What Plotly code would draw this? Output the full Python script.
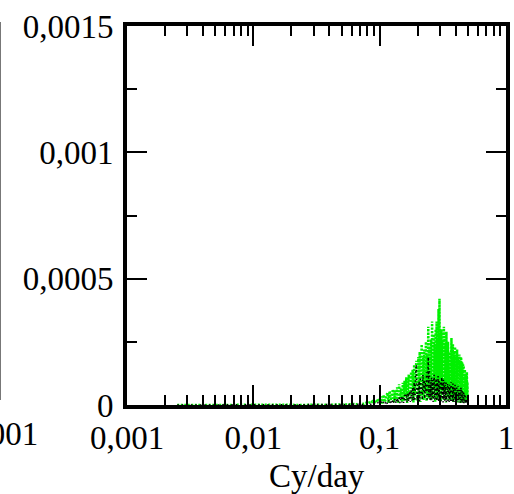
import plotly.graph_objects as go

# Periodogram frequency grid (cycles per day), uniform step up to Nyquist
freq_step = 0.0025
freq = [round(freq_step * k, 4) for k in range(1, 201)]

# Spectral power, in units of 1e-6
green_power_e6 = [
    0, 1, 0, 0, 1, 0, 0, 1, 0, 1, 0, 0, 1, 0, 1, 1, 0, 1, 2, 1,
    2, 1, 3, 2, 4, 2, 5, 3, 6, 4, 8, 5, 10, 6, 14, 8, 18, 10, 26, 14,
    34, 6, 40, 12, 30, 48, 8, 55, 18, 44, 62, 10, 58, 22, 70, 6, 82, 28, 66, 12,
    88, 15, 96, 30, 110, 8, 85, 120, 20, 100, 130, 25, 140, 10, 160, 40, 120, 175, 15, 150,
    190, 30, 210, 12, 170, 240, 40, 195, 20, 220, 60, 180, 250, 15, 205, 50, 310, 25, 230, 170,
    45, 260, 20, 330, 60, 210, 280, 35, 240, 10, 300, 70, 330, 20, 260, 55, 380, 30, 420, 50,
    280, 15, 300, 60, 250, 25, 230, 80, 310, 20, 270, 45, 240, 10, 290, 65, 220, 30, 250, 40,
    230, 20, 210, 55, 200, 15, 150, 265, 30, 220, 50, 240, 12, 190, 40, 210, 20, 230, 45, 180,
    200, 25, 170, 220, 10, 160, 190, 35, 180, 15, 200, 40, 150, 175, 8, 190, 30, 160, 20, 170,
    140, 15, 160, 35, 150, 10, 130, 40, 140, 12, 120, 30, 110, 8, 100, 130, 20, 90, 15, 20,
]
black_power_e6 = [
    0, 0, 1, 0, 0, 1, 0, 0, 1, 0, 0, 1, 0, 0, 1, 0, 1, 0, 1, 1,
    1, 2, 1, 2, 3, 1, 3, 2, 4, 2, 5, 3, 6, 3, 8, 4, 9, 5, 10, 6,
    12, 3, 14, 5, 16, 4, 18, 6, 20, 5, 22, 8, 25, 6, 28, 9, 30, 7, 34, 10,
    36, 8, 40, 12, 44, 10, 48, 14, 55, 12, 60, 15, 70, 18, 90, 15, 120, 160, 20, 80,
    45, 95, 15, 110, 40, 85, 20, 120, 55, 100, 25, 90, 50, 130, 15, 110, 190, 30, 140, 20,
    90, 15, 110, 30, 100, 12, 85, 120, 20, 95, 25, 105, 15, 90, 30, 115, 12, 100, 25, 85,
    60, 95, 15, 110, 30, 85, 10, 100, 25, 90, 15, 80, 20, 95, 12, 75, 25, 85, 10, 70,
    65, 12, 80, 20, 70, 10, 90, 25, 60, 15, 45, 85, 10, 70, 20, 65, 12, 80, 15, 60,
    55, 10, 70, 15, 60, 12, 75, 20, 50, 10, 30, 60, 15, 55, 8, 70, 12, 50, 10, 55,
    45, 8, 55, 12, 50, 6, 45, 10, 40, 8, 35, 6, 30, 5, 25, 8, 15, 4, 8, 5,
]
UNIT = 1e-6
green_power = [v * UNIT for v in green_power_e6]
black_power = [v * UNIT for v in black_power_e6]

# Axis ticks
x_major_vals = [0.001, 0.01, 0.1, 1]
x_major_text = ["0,001", "0,01", "0,1", "1"]
x_minor_vals = [m * d for d in (0.001, 0.01, 0.1) for m in range(2, 10)]
y_major_vals = [0, 0.0005, 0.001, 0.0015]
y_major_text = ["0", "0,0005", "0,001", "0,0015"]
y_minor_vals = [0.00025, 0.00075, 0.00125]

FONT = "Liberation Serif, Times New Roman, serif"

fig = go.Figure()
fig.add_trace(go.Scatter(
    x=freq, y=green_power, mode="lines",
    line=dict(color="#00f000", width=2.5, dash="2px,1.5px"),
    showlegend=False,
))
fig.add_trace(go.Scatter(
    x=freq, y=black_power, mode="lines",
    line=dict(color="#000000", width=1.5, dash="1.5px,3px"),
    showlegend=False,
))

axis_common = dict(
    showline=True, linecolor="black", linewidth=4, mirror="allticks",
    ticks="inside", tickcolor="black", tickwidth=2, ticklen=20,
    showgrid=False, zeroline=False, automargin=False,
    ticklabeloverflow="allow",
    tickfont=dict(family=FONT, size=33, color="black"),
)

fig.update_xaxes(
    type="log", range=[-3, 0],
    tickmode="array", tickvals=x_major_vals, ticktext=x_major_text,
    minor=dict(tickmode="array", tickvals=x_minor_vals, ticks="inside",
               ticklen=10, tickwidth=2, tickcolor="black", showgrid=False),
    **axis_common,
)
fig.update_yaxes(
    range=[0, 0.0015],
    tickmode="array", tickvals=y_major_vals, ticktext=y_major_text,
    minor=dict(tickmode="array", tickvals=y_minor_vals, ticks="inside",
               ticklen=10, tickwidth=2, tickcolor="black", showgrid=False),
    ticklabelstandoff=3,
    **axis_common,
)

plot_w = 514 - 127 - 8
plot_h = 494 - 26 - 89

# x-axis title
fig.add_annotation(xref="paper", yref="paper",
                   x=0.5, y=(405 - 476) / plot_h,
                   xanchor="center", yanchor="middle", showarrow=False,
                   borderpad=0,
                   text="Cy/day", font=dict(family=FONT, size=33, color="black"))

# Edge of the adjacent panel: its frame line and the tail of its last x label
fig.add_shape(type="line", xref="paper", yref="paper",
              x0=(0.5 - 127) / plot_w, x1=(0.5 - 127) / plot_w,
              y0=(405 - 22) / plot_h, y1=(405 - 400) / plot_h,
              line=dict(color="#777777", width=1))
fig.add_annotation(xref="paper", yref="paper",
                   x=(40 - 127) / plot_w, y=(405 - 434) / plot_h,
                   xanchor="right", yanchor="middle", showarrow=False,
                   text="0,001", font=dict(family=FONT, size=33, color="black"))

fig.update_layout(
    width=514, height=494,
    margin=dict(l=127, r=8, t=26, b=89, pad=0),
    paper_bgcolor="white", plot_bgcolor="white",
    separators=",.",
    font=dict(family=FONT, color="black"),
)

fig.write_html("out.html")
